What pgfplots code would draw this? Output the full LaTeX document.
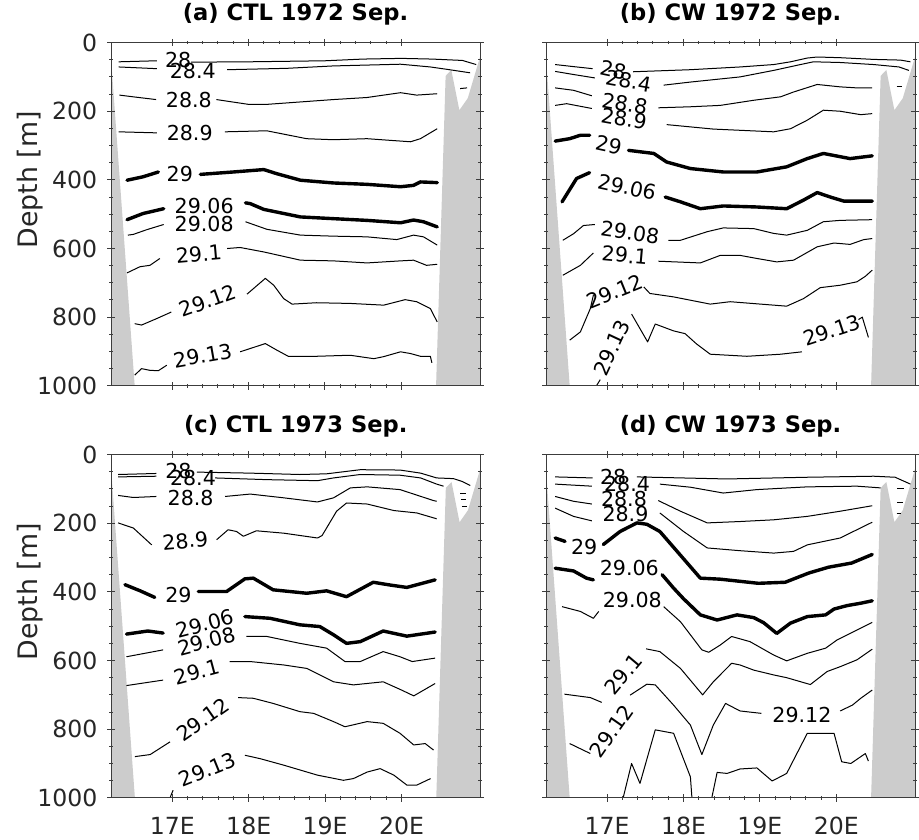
\documentclass[border=0pt]{standalone}
\usepackage{fontspec}
\setmainfont{DejaVu Sans}
\usepackage{pgfplots}
\pgfplotsset{compat=1.18}
\definecolor{landgray}{RGB}{204,204,204}
\definecolor{axgray}{RGB}{60,60,60}
\tikzset{lab/.style={font=\fontsize{10.3}{12}\selectfont, inner sep=0pt}}
\pgfplotsset{
  panel/.style={
    scale only axis, width=184.5pt, height=171.6pt,
    anchor=south west,
    xmin=16.2, xmax=21.03, ymin=0, ymax=1000, y dir=reverse,
    xtick={17,18,19,20}, xticklabels={17E,18E,19E,20E},
    ytick={0,200,400,600,800,1000},
    minor x tick num=4, minor y tick num=3,
    tick align=center, major tick length=3.8pt, minor tick length=1.8pt,
    axis line style={axgray, line width=0.5pt},
    every tick/.style={axgray, line width=0.5pt},
    tick label style={font=\fontsize{11.8}{14}\selectfont, text=black!85},
    /pgf/number format/1000 sep={},
    /pgf/number format/assume math mode=true,
    yticklabel style={xshift=-1.5pt},
    xticklabel style={yshift=-4.3pt},
    title style={font=\fontsize{11.3}{13}\selectfont\bfseries, at={(axis description cs:0.5,1)}, anchor=base, yshift=5pt},
    ylabel style={font=\fontsize{13.4}{16}\selectfont, text=black!85, at={(axis description cs:-0.22,0.6)}, anchor=center},
    axis on top,
    clip=true,
    every axis plot/.append style={no markers},
  },
  ctr/.style={black, line width=0.5pt, line join=round},
  ctrb/.style={black, line width=1.7pt, line join=round, line cap=round},
  land/.style={fill=landgray, draw=none},
}
\newcommand{\landplots}{%
  \addplot[land] coordinates {(16.2,45) (16.51,1000) (16.2,1000)};
  \addplot[land] coordinates {(20.455,1000) (20.58,97) (20.655,80) (20.76,197) (20.87,162) (21.03,42) (21.03,1000)};
}
\begin{document}
\begin{tikzpicture}
\useasboundingbox (0,0) rectangle (459.5pt,419.5pt);

% ---------------- (a) ----------------
\begin{axis}[panel, at={(55.5pt,226.6pt)}, title={(a) CTL 1972 Sep.}, ylabel={Depth [m]}, xticklabels={}]
\landplots
\addplot[ctr] coordinates {(16.30,56) (16.80,53)};
\addplot[ctr] coordinates {(17.25,57) (18.0,56) (19.0,53) (19.5,48) (20.0,46) (20.4,48) (20.8,52) (20.98,64)};
\addplot[ctr] coordinates {(16.30,71) (16.80,76)};
\addplot[ctr] coordinates {(17.72,79) (18.5,75) (19.11,68) (19.99,63) (20.38,71) (20.6,78) (20.9,88)};
\addplot[ctr] coordinates {(16.31,153) (16.49,158) (16.79,166)};
\addplot[ctr] coordinates {(17.58,166) (18.0,180) (18.24,180) (19.11,166) (19.55,160) (19.99,146) (20.2,153) (20.47,149)};
\addplot[ctr] coordinates {(20.77,134) (20.86,132)};
\addplot[ctr] coordinates {(16.30,260) (16.8,263)};
\addplot[ctr] coordinates {(17.69,260) (18.24,257) (18.76,280) (19.11,283) (19.55,280) (20.12,289) (20.25,280) (20.47,251)};
\addplot[ctrb] coordinates {(16.41,401) (16.62,391) (16.82,377)};
\addplot[ctrb] coordinates {(17.37,384) (17.8,377) (18.2,370) (18.37,382) (18.68,401) (19.11,409) (19.55,413) (19.99,420) (20.16,416) (20.25,406) (20.47,408)};
\addplot[ctrb] coordinates {(16.41,516) (16.62,498) (16.89,484)};
\addplot[ctrb] coordinates {(17.96,467) (18.02,469) (18.2,486) (18.68,508) (19.11,513) (19.55,518) (19.99,525) (20.16,517) (20.29,522) (20.47,537)};
\addplot[ctr] coordinates {(16.42,561) (16.49,559) (16.67,545) (16.89,530)};
\addplot[ctr] coordinates {(17.96,522) (18.24,544) (18.68,561) (19.11,564) (19.55,566) (19.94,574) (20.16,561) (20.29,566) (20.47,590)};
\addplot[ctr] coordinates {(16.41,671) (16.58,653) (16.71,649) (16.84,629)};
\addplot[ctr] coordinates {(17.72,600) (17.89,597) (18.2,610) (18.68,634) (19.11,636) (19.55,642) (19.99,636) (20.16,634) (20.33,649) (20.47,646)};
\addplot[ctr] coordinates {(16.51,819) (16.6,823) (16.8,804) (16.99,785)};
\addplot[ctr] coordinates {(17.98,733) (18.22,687) (18.33,707) (18.46,746) (18.57,762) (18.89,758) (19.33,760) (19.77,765) (20.05,749) (20.2,755) (20.38,775) (20.47,814)};
\addplot[ctr] coordinates {(16.51,969) (16.6,950) (16.71,955) (16.82,956) (16.93,940)};
\addplot[ctr] coordinates {(17.89,901) (18.22,877) (18.37,896) (18.52,914) (18.89,914) (19.33,911) (19.64,921) (19.77,915) (19.99,901) (20.12,906) (20.25,914) (20.38,914) (20.4,933)};
\node[lab] at (axis cs:17.08,52) {28};
\node[lab] at (axis cs:17.27,82) {28.4};
\node[lab] at (axis cs:17.22,168) {28.8};
\node[lab] at (axis cs:17.23,262) {28.9};
\node[lab] at (axis cs:17.1,382) {29};
\node[lab] at (axis cs:17.42,476) {29.06};
\node[lab] at (axis cs:17.42,530) {29.08};
\node[lab, rotate=5] at (axis cs:17.35,617) {29.1};
\node[lab, rotate=20] at (axis cs:17.47,752) {29.12};
\node[lab, rotate=10] at (axis cs:17.4,912) {29.13};
\end{axis}

% ---------------- (b) ----------------
\begin{axis}[panel, at={(273pt,226.6pt)}, title={(b) CW 1972 Sep.}, xticklabels={}, yticklabels={}]
\landplots
\addplot[ctr] coordinates {(16.32,64) (16.56,70) (16.81,76)};
\addplot[ctr] coordinates {(17.34,85) (18.09,79) (18.74,71) (19.18,64) (19.4,56) (19.62,45) (19.75,42) (20.05,44) (20.49,49) (20.84,51) (20.97,56)};
\addplot[ctr] coordinates {(16.32,84) (16.56,93) (16.84,103)};
\addplot[ctr] coordinates {(17.74,124) (18.09,115) (18.74,100) (19.18,81) (19.53,64) (19.7,56) (20.05,58) (20.49,64) (20.82,71) (20.95,81)};
\addplot[ctr] coordinates {(16.32,132) (16.56,139) (16.8,155)};
\addplot[ctr] coordinates {(17.67,190) (18.09,187) (18.48,183) (18.92,168) (19.27,158) (19.44,144) (19.75,122) (20.05,129) (20.27,132) (20.47,132)};
\addplot[ctr] coordinates {(20.79,129) (20.86,129)};
\addplot[ctr] coordinates {(16.32,183) (16.47,178) (16.8,192)};
\addplot[ctr] coordinates {(17.78,239) (18.39,252) (19.18,260) (19.4,251) (19.62,226) (19.83,197) (20.05,200) (20.32,210) (20.47,207)};
\addplot[ctrb] coordinates {(16.32,287) (16.51,280) (16.65,270) (16.77,270)};
\addplot[ctrb] coordinates {(17.28,314) (17.61,323) (17.78,348) (18.09,367) (18.52,377) (18.96,377) (19.35,362) (19.62,338) (19.83,323) (20.18,338) (20.47,330)};
\addplot[ctrb] coordinates {(16.41,464) (16.6,396) (16.77,379)};
\addplot[ctrb] coordinates {(17.76,450) (17.96,464) (18.22,484) (18.52,476) (18.96,479) (19.35,484) (19.57,459) (19.75,437) (19.92,450) (20.1,462) (20.47,462)};
\addplot[ctr] coordinates {(16.42,576) (16.56,557) (16.69,533) (16.84,530)};
\addplot[ctr] coordinates {(17.8,576) (17.96,576) (18.31,551) (18.52,540) (18.92,542) (19.18,556) (19.35,561) (19.62,547) (19.83,522) (20.05,518) (20.47,516)};
\addplot[ctr] coordinates {(16.42,678) (16.65,649) (16.82,613)};
\addplot[ctr] coordinates {(17.67,637) (18.22,642) (18.48,620) (18.74,620) (18.96,629) (19.22,639) (19.44,634) (19.75,595) (19.97,584) (20.18,588) (20.36,574) (20.47,571)};
\addplot[ctr] coordinates {(16.51,867) (16.65,843) (16.78,775) (16.82,736)};
\addplot[ctr] coordinates {(17.48,712) (17.56,731) (17.87,741) (18.35,762) (18.61,755) (19.18,765) (19.35,768) (19.57,746) (19.79,714) (20.05,707) (20.27,697) (20.38,681) (20.47,663)};
\addplot[ctr] coordinates {(16.86,1000) (16.91,982)};
\addplot[ctr] coordinates {(17.32,791) (17.53,872) (17.63,820) (17.87,840) (18.02,848) (18.17,878) (18.35,908) (18.83,914) (19.27,908) (19.55,901)};
\addplot[ctr] coordinates {(20.29,807) (20.34,800) (20.42,859)};
\node[lab, rotate=-12] at (axis cs:17.08,80) {28};
\node[lab, rotate=-10] at (axis cs:17.28,112) {28.4};
\node[lab, rotate=-10] at (axis cs:17.23,178) {28.8};
\node[lab, rotate=-10] at (axis cs:17.22,222) {28.9};
\node[lab, rotate=-12] at (axis cs:17.02,298) {29};
\node[lab, rotate=-12] at (axis cs:17.26,421) {29.06};
\node[lab, rotate=-8] at (axis cs:17.3,553) {29.08};
\node[lab, rotate=-5] at (axis cs:17.23,620) {29.1};
\node[lab, rotate=22] at (axis cs:17.1,726) {29.12};
\node[lab, rotate=65] at (axis cs:17.06,889) {29.13};
\node[lab, rotate=18] at (axis cs:19.94,838) {29.13};
\end{axis}

% ---------------- (c) ----------------
\begin{axis}[panel, at={(55.6pt,20.6pt)}, title={(c) CTL 1973 Sep.}, ylabel={Depth [m]}]
\landplots
\addplot[ctr] coordinates {(16.29,58) (16.79,55)};
\addplot[ctr] coordinates {(17.32,51) (18.02,54) (18.67,58) (19.02,56) (19.46,44) (19.98,45) (20.25,54) (20.46,68) (20.68,70) (20.79,78) (20.9,90)};
\addplot[ctr] coordinates {(16.29,65) (16.79,63)};
\addplot[ctr] coordinates {(17.56,68) (18.24,73) (18.9,76) (19.11,68) (19.46,58) (19.98,60) (20.25,68) (20.46,86) (20.55,92)};
\addplot[ctr] coordinates {(16.29,119) (16.49,125) (16.79,122)};
\addplot[ctr] coordinates {(17.69,122) (18.02,115) (18.46,126) (18.9,138) (19.11,126) (19.33,97) (19.55,94) (19.98,102) (20.42,134) (20.46,136)};
\addplot[ctr] coordinates {(16.29,199) (16.49,214) (16.73,263)};
\addplot[ctr] coordinates {(17.58,248) (17.73,219) (17.84,224) (17.93,238) (18.1,222) (18.46,229) (18.9,243) (18.96,236) (19.15,165) (19.28,141) (19.55,144) (19.9,163) (20.2,170) (20.46,187)};
\addplot[ctr] coordinates {(20.77,114) (20.85,114)};
\addplot[ctr] coordinates {(20.78,132) (20.85,132)};
\addplot[ctr] coordinates {(20.79,150) (20.86,150)};
\addplot[ctrb] coordinates {(16.38,379) (16.58,397) (16.77,416)};
\addplot[ctrb] coordinates {(17.34,399) (17.71,399) (17.95,362) (18.06,360) (18.32,394) (18.76,404) (19.02,397) (19.28,414) (19.63,372) (19.85,380) (20.07,387) (20.44,365)};
\addplot[ctrb] coordinates {(16.4,523) (16.68,514) (16.88,520)};
\addplot[ctrb] coordinates {(17.95,472) (18.28,477) (18.67,496) (18.93,501) (19.11,525) (19.28,550) (19.46,545) (19.76,514) (20.07,529) (20.44,517)};
\addplot[ctr] coordinates {(16.4,589) (16.88,569)};
\addplot[ctr] coordinates {(17.97,530) (18.24,530) (18.67,550) (19.02,564) (19.26,603) (19.46,603) (19.76,574) (19.98,589) (20.14,603) (20.44,593)};
\addplot[ctr] coordinates {(16.4,673) (16.88,657)};
\addplot[ctr] coordinates {(17.75,603) (18.02,603) (18.46,613) (18.76,623) (19.11,662) (19.37,671) (19.76,662) (20.0,686) (20.16,703) (20.44,667)};
\addplot[ctr] coordinates {(16.51,880) (16.71,874) (16.97,837)};
\addplot[ctr] coordinates {(17.86,708) (18.06,710) (18.32,725) (18.67,749) (18.85,754) (19.11,778) (19.26,793) (19.55,778) (19.76,783) (19.98,812) (20.16,846) (20.31,842) (20.42,861)};
\addplot[ctr] coordinates {(16.97,1000) (17.01,978)};
\addplot[ctr] coordinates {(17.95,876) (18.15,886) (18.46,905) (18.9,934) (19.24,949) (19.37,944) (19.55,925) (19.72,915) (19.9,934) (20.07,963) (20.2,963) (20.38,944)};
\node[lab] at (axis cs:17.08,49) {28};
\node[lab] at (axis cs:17.27,68) {28.4};
\node[lab] at (axis cs:17.24,126) {28.8};
\node[lab, rotate=5] at (axis cs:17.17,251) {28.9};
\node[lab] at (axis cs:17.08,409) {29};
\node[lab, rotate=15] at (axis cs:17.43,493) {29.06};
\node[lab, rotate=15] at (axis cs:17.45,544) {29.08};
\node[lab, rotate=15] at (axis cs:17.32,634) {29.1};
\node[lab, rotate=35] at (axis cs:17.4,772) {29.12};
\node[lab, rotate=22] at (axis cs:17.46,917) {29.13};
\end{axis}

% ---------------- (d) ----------------
\begin{axis}[panel, at={(273pt,20.6pt)}, title={(d) CW 1973 Sep.}, yticklabels={}]
\landplots
\addplot[ctr] coordinates {(16.32,65) (16.81,68)};
\addplot[ctr] coordinates {(17.39,65) (18.57,71) (19.62,66) (20.49,63) (20.77,66) (20.97,86)};
\addplot[ctr] coordinates {(16.32,86) (16.8,92)};
\addplot[ctr] coordinates {(17.69,86) (18.09,95) (18.52,112) (18.96,102) (19.62,94) (20.27,92) (20.58,97)};
\addplot[ctr] coordinates {(16.32,122) (16.56,136) (16.8,144)};
\addplot[ctr] coordinates {(17.67,134) (17.96,165) (18.31,199) (18.74,195) (19.18,190) (19.62,180) (20.05,165) (20.47,149)};
\addplot[ctr] coordinates {(16.32,156) (16.56,180) (16.8,193)};
\addplot[ctr] coordinates {(17.69,170) (18.0,224) (18.31,272) (18.74,280) (19.18,287) (19.44,282) (19.62,263) (20.05,243) (20.47,197)};
\addplot[ctr] coordinates {(20.8,100) (20.88,100)};
\addplot[ctr] coordinates {(20.8,141) (20.87,141)};
\addplot[ctr] coordinates {(20.79,172) (20.85,172)};
\addplot[ctrb] coordinates {(16.32,243) (16.45,253)};
\addplot[ctrb] coordinates {(16.95,262) (17.17,224) (17.39,199) (17.52,203) (17.69,224) (17.92,283) (18.22,360) (18.48,363) (18.98,375) (19.33,372) (19.64,345) (19.9,328) (20.2,316) (20.47,291)};
\addplot[ctrb] coordinates {(16.32,331) (16.56,339) (16.73,360) (16.82,365)};
\addplot[ctrb] coordinates {(17.72,350) (17.87,389) (18.0,420) (18.22,467) (18.44,482) (18.7,467) (18.92,475) (19.05,490) (19.22,521) (19.4,491) (19.62,472) (19.86,467) (19.97,450) (20.14,440) (20.32,433) (20.47,426)};
\addplot[ctr] coordinates {(16.41,443) (16.65,457) (16.82,477) (16.89,457)};
\addplot[ctr] coordinates {(17.74,443) (17.96,487) (18.24,569) (18.33,576) (18.48,555) (18.63,530) (18.87,545) (19.18,584) (19.35,601) (19.62,579) (19.86,564) (20.01,540) (20.27,511) (20.47,489)};
\addplot[ctr] coordinates {(16.44,698) (16.78,708) (16.93,722)};
\addplot[ctr] coordinates {(17.51,566) (17.69,574) (17.96,623) (18.25,700) (18.39,662) (18.63,608) (18.74,613) (18.92,628) (19.18,642) (19.35,650) (19.66,670) (19.88,632) (20.05,618) (20.27,598) (20.47,567)};
\addplot[ctr] coordinates {(16.51,842) (16.78,871)};
\addplot[ctr] coordinates {(17.3,701) (17.52,669) (17.63,671) (17.87,730) (18.09,788) (18.24,874) (18.39,788) (18.55,725) (18.74,747) (19.02,754)};
\addplot[ctr] coordinates {(20.05,747) (20.21,730) (20.32,710) (20.47,686)};
\addplot[ctr] coordinates {(17.21,1000) (17.32,900) (17.43,958) (17.63,802) (17.87,812) (18.09,939) (18.11,1000)};
\addplot[ctr] coordinates {(18.37,1000) (18.44,926) (18.57,929) (18.74,916) (18.96,913) (19.16,951) (19.35,929) (19.62,812) (19.97,812) (20.07,895) (20.19,900) (20.38,871) (20.42,893)};
\node[lab] at (axis cs:17.08,65) {28};
\node[lab] at (axis cs:17.26,86) {28.4};
\node[lab] at (axis cs:17.22,129) {28.8};
\node[lab] at (axis cs:17.24,173) {28.9};
\node[lab] at (axis cs:16.70,268) {29};
\node[lab] at (axis cs:17.29,329) {29.06};
\node[lab] at (axis cs:17.33,423) {29.08};
\node[lab, rotate=50] at (axis cs:17.21,640) {29.1};
\node[lab, rotate=55] at (axis cs:17.06,806) {29.12};
\node[lab] at (axis cs:19.55,759) {29.12};
\end{axis}
\end{tikzpicture}
\end{document}
